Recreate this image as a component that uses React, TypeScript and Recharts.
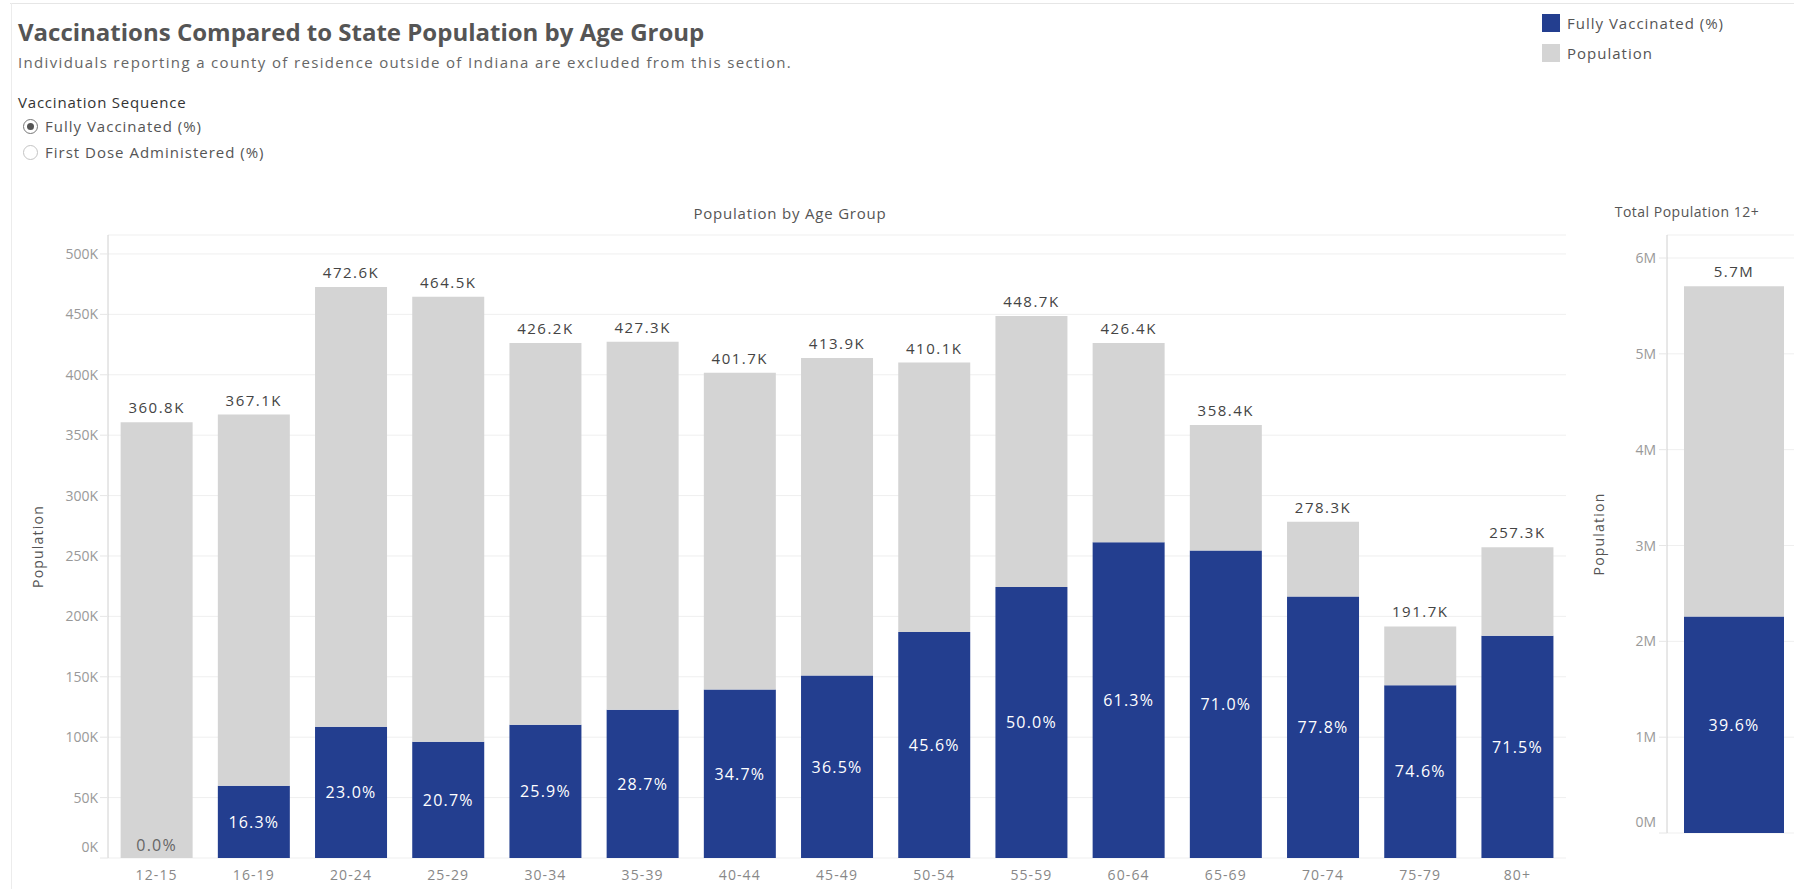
import { BarChart, Bar, XAxis, YAxis, CartesianGrid, LabelList } from "recharts"

const ageGroups = ["12-15", "16-19", "20-24", "25-29", "30-34", "35-39", "40-44", "45-49", "50-54", "55-59", "60-64", "65-69", "70-74", "75-79", "80+"]
const population = [360800, 367100, 472600, 464500, 426200, 427300, 401700, 413900, 410100, 448700, 426400, 358400, 278300, 191700, 257300]
const fullyVaccinatedPct = [0.0, 16.3, 23.0, 20.7, 25.9, 28.7, 34.7, 36.5, 45.6, 50.0, 61.3, 71.0, 77.8, 74.6, 71.5]
const populationTicks = [0, 50000, 100000, 150000, 200000, 250000, 300000, 350000, 400000, 450000, 500000]

const totalLabel = "Total"
const totalPopulation = 5705000
const totalPct = 39.6
const totalTicks = [0, 1000000, 2000000, 3000000, 4000000, 5000000, 6000000]

const BLUE = "#233E8F"
const GRAY = "#D4D4D4"
const FONT = "'Open Sans', sans-serif"

const ageRows = ageGroups.map((age, i) => {
  const vaccinated = (population[i] * fullyVaccinatedPct[i]) / 100
  return {
    age,
    population: population[i],
    pct: fullyVaccinatedPct[i],
    vaccinated,
    remainder: population[i] - vaccinated,
  }
})

const totalVaccinated = (totalPopulation * totalPct) / 100
const totalRows = [
  {
    age: totalLabel,
    population: totalPopulation,
    pct: totalPct,
    vaccinated: totalVaccinated,
    remainder: totalPopulation - totalVaccinated,
  },
]

function box(p: any) {
  const vb = p.viewBox ?? p
  return { x: Number(vb.x), y: Number(vb.y), width: Number(vb.width), height: Number(vb.height) }
}

// percent inside the blue segment
function PctLabel(props: any) {
  const { x, y, width, height } = box(props)
  const v = Number(props.value)
  if (v < 3) return null
  return (
    <text x={x + width / 2} y={y + height / 2} dy="0.36em" textAnchor="middle" fill="#fff" fontSize={16} letterSpacing={1.2}>
      {v.toFixed(1)}%
    </text>
  )
}

// tiny percentages sit at the foot of the grey segment
function LowPctLabel(props: any) {
  const { x, y, width, height } = box(props)
  const v = Number(props.value)
  if (v >= 3) return null
  return (
    <text x={x + width / 2} y={y + height - 7} textAnchor="middle" fill="#666" fontSize={16} letterSpacing={1.2}>
      {v.toFixed(1)}%
    </text>
  )
}

function makeTopLabel(fmt: (v: number) => string) {
  return (props: any) => {
    const { x, y, width } = box(props)
    return (
      <text x={x + width / 2} y={y - 9} textAnchor="middle" fill="#444" fontSize={15} letterSpacing={1.5}>
        {fmt(Number(props.value))}
      </text>
    )
  }
}

function YTick(props: any) {
  const { x, y, payload, fmt } = props
  const shift = payload.value === 0 ? -11 : 0
  return (
    <text x={x} y={y + shift} dy="0.36em" textAnchor="end" fill="#999" fontSize={14}>
      {fmt(payload.value)}
    </text>
  )
}

function XTick(props: any) {
  const { x, y, payload } = props
  return (
    <text x={x} y={y} dy="0.71em" textAnchor="middle" fill="#888" fontSize={14} letterSpacing={1.1}>
      {payload.value}
    </text>
  )
}

function AxisTitle(props: any) {
  const vb = props.viewBox
  const x = vb.x + props.dxTitle
  const y = vb.y + vb.height / 2
  return (
    <text x={x} y={y} transform={`rotate(-90 ${x} ${y})`} textAnchor="middle" dy="0.36em" fill="#555" fontSize={14} letterSpacing={1.2}>
      Population
    </text>
  )
}

const fmtK = (v: number) => `${v / 1000}K`
const fmtM = (v: number) => `${v / 1000000}M`

export default function App() {
  return (
    <div
      style={{
        position: "fixed",
        left: 0,
        top: 0,
        width: 1794,
        height: 889,
        overflow: "hidden",
        background: "#fff",
        fontFamily: FONT,
      }}
    >
      <div style={{ position: "absolute", left: 10, top: 3, width: 1784, height: 1, background: "#e6e6e6" }} />
      <div style={{ position: "absolute", left: 11, top: 3, width: 1, height: 886, background: "#ececec" }} />

      <div style={{ position: "absolute", left: 18, top: 16, lineHeight: "32px", fontSize: 24, fontWeight: 700, color: "#555", whiteSpace: "nowrap" }}>
        Vaccinations Compared to State Population by Age Group
      </div>
      <div style={{ position: "absolute", left: 18, top: 52, lineHeight: "20px", fontSize: 15, letterSpacing: 1.35, color: "#666", whiteSpace: "nowrap" }}>
        Individuals reporting a county of residence outside of Indiana are excluded from this section.
      </div>
      <div style={{ position: "absolute", left: 18, top: 92, lineHeight: "20px", fontSize: 15, letterSpacing: 0.8, color: "#333", whiteSpace: "nowrap" }}>
        Vaccination Sequence
      </div>
      {["Fully Vaccinated (%)", "First Dose Administered (%)"].map((t, i) => (
        <div key={t} style={{ position: "absolute", left: 23, top: 116 + i * 26, height: 20, display: "flex", alignItems: "center" }}>
          <div
            style={{
              width: 15,
              height: 15,
              borderRadius: "50%",
              border: `1px solid ${i === 0 ? "#777" : "#c4c4c4"}`,
              display: "flex",
              alignItems: "center",
              justifyContent: "center",
              boxSizing: "border-box",
            }}
          >
            {i === 0 && <div style={{ width: 7, height: 7, borderRadius: "50%", background: "#555" }} />}
          </div>
          <span style={{ marginLeft: 7, fontSize: 15, letterSpacing: 1, color: "#555", whiteSpace: "nowrap" }}>{t}</span>
        </div>
      ))}

      {[
        { name: "Fully Vaccinated (%)", color: BLUE },
        { name: "Population", color: GRAY },
      ].map((l, i) => (
        <div key={l.name} style={{ position: "absolute", left: 1542, top: 14 + i * 30, height: 18, display: "flex", alignItems: "center" }}>
          <div style={{ width: 18, height: 18, background: l.color }} />
          <span style={{ marginLeft: 7, fontSize: 15, letterSpacing: 1, color: "#555", whiteSpace: "nowrap" }}>{l.name}</span>
        </div>
      ))}

      <div style={{ position: "absolute", left: 590, top: 203, width: 400, textAlign: "center", lineHeight: "20px", fontSize: 15, letterSpacing: 0.8, color: "#555" }}>
        Population by Age Group
      </div>
      <div style={{ position: "absolute", left: 1562, top: 202, width: 250, textAlign: "center", lineHeight: "20px", fontSize: 14, letterSpacing: 0.5, color: "#555" }}>
        Total Population 12+
      </div>

      <div style={{ position: "absolute", left: 8, top: 0 }}>
        <BarChart width={1558} height={888} data={ageRows} margin={{ top: 235, right: 0, bottom: 0, left: 0 }} barCategoryGap="13%">
          <CartesianGrid vertical={false} stroke="#efefef" />
          <XAxis dataKey="age" interval={0} height={30} tickLine={false} axisLine={false} tickSize={6} tickMargin={6} tick={<XTick />} />
          <YAxis
            width={100}
            domain={[0, 515700]}
            ticks={populationTicks}
            interval={0}
            tickSize={8}
            tickMargin={2}
            axisLine={{ stroke: "#d0d0d0" }}
            tickLine={{ stroke: "#e6e6e6" }}
            tick={<YTick fmt={fmtK} />}
            label={<AxisTitle dxTitle={30} />}
          />
          <YAxis yAxisId="edge" orientation="right" width={0} tick={false} tickLine={false} axisLine={{ stroke: "#d0d0d0" }} />
          <Bar dataKey="vaccinated" stackId="a" fill={BLUE} isAnimationActive={false}>
            <LabelList dataKey="pct" content={PctLabel} />
          </Bar>
          <Bar dataKey="remainder" stackId="a" fill={GRAY} isAnimationActive={false}>
            <LabelList dataKey="population" content={makeTopLabel((v) => `${(v / 1000).toFixed(1)}K`)} />
            <LabelList dataKey="pct" content={LowPctLabel} />
          </Bar>
        </BarChart>
      </div>

      <div style={{ position: "absolute", left: 1567, top: 0 }}>
        <BarChart width={233} height={853} data={totalRows} margin={{ top: 235, right: 0, bottom: 20, left: 0 }}>
          <CartesianGrid vertical={false} stroke="#efefef" />
          <XAxis dataKey="age" hide />
          <YAxis
            width={100}
            domain={[0, 6240000]}
            ticks={totalTicks}
            interval={0}
            tickSize={8}
            tickMargin={3}
            axisLine={{ stroke: "#d0d0d0" }}
            tickLine={{ stroke: "#e6e6e6" }}
            tick={<YTick fmt={fmtM} />}
            label={<AxisTitle dxTitle={32} />}
          />
          <Bar dataKey="vaccinated" stackId="t" fill={BLUE} barSize={100} isAnimationActive={false}>
            <LabelList dataKey="pct" content={PctLabel} />
          </Bar>
          <Bar dataKey="remainder" stackId="t" fill={GRAY} barSize={100} isAnimationActive={false}>
            <LabelList dataKey="population" content={makeTopLabel((v) => `${(v / 1000000).toFixed(1)}M`)} />
          </Bar>
        </BarChart>
      </div>
    </div>
  )
}
